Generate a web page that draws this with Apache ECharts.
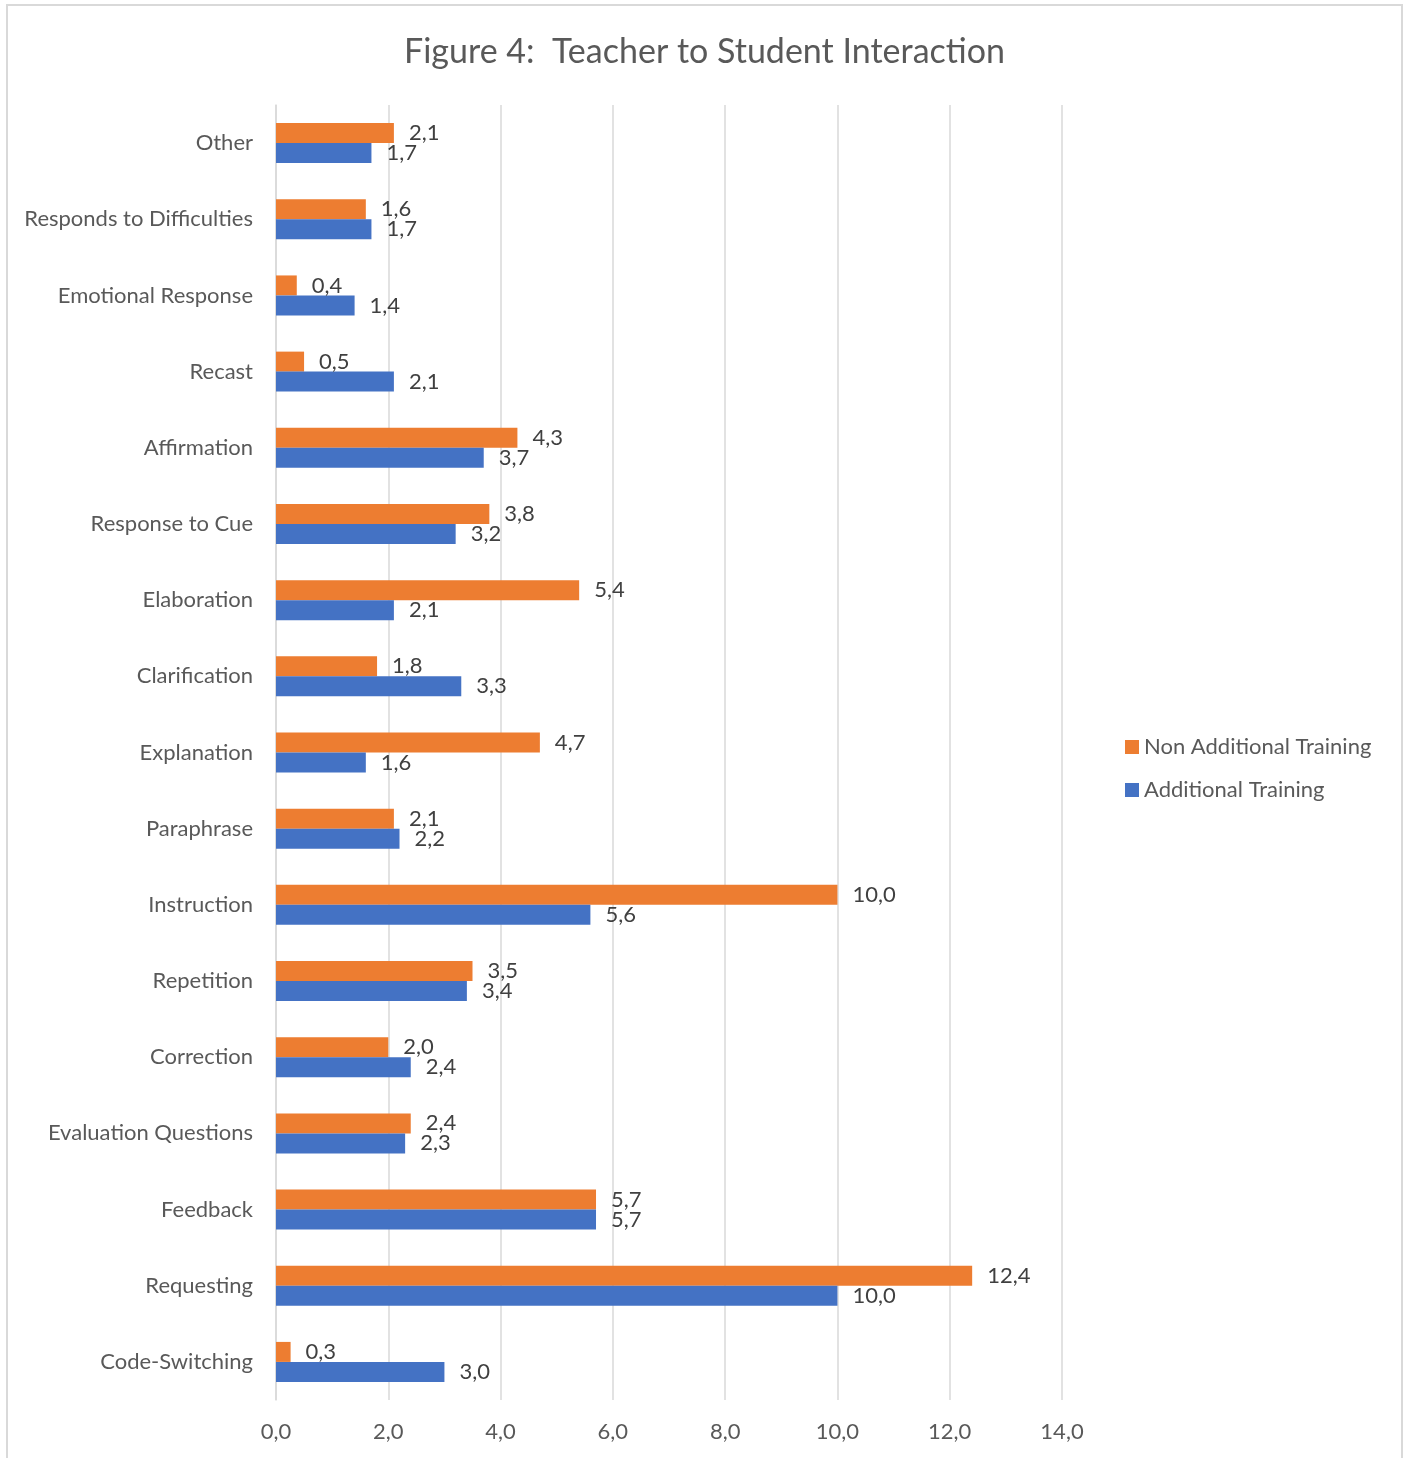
<!DOCTYPE html>
<html>
<head>
<meta charset="utf-8">
<script src="https://cdn.jsdelivr.net/npm/echarts@6/dist/echarts.min.js"></script>
<style>
html,body{margin:0;padding:0;background:#fff;}
#chart{width:1409px;height:1458px;}
</style>
</head>
<body>
<div id="chart"></div>
<script>
const categories = ["Other","Responds to Difficulties","Emotional Response","Recast","Affirmation","Response to Cue","Elaboration","Clarification","Explanation","Paraphrase","Instruction","Repetition","Correction","Evaluation Questions","Feedback","Requesting","Code-Switching"];
const nonAdditional = [2.1,1.6,0.37,0.5,4.3,3.8,5.4,1.8,4.7,2.1,10.0,3.5,2.0,2.4,5.7,12.4,0.26];
const additional = [1.7,1.7,1.4,2.1,3.7,3.2,2.1,3.3,1.6,2.2,5.6,3.4,2.4,2.3,5.7,10.0,3.0];
const xTicks = [0,2,4,6,8,10,12,14];

const FONT = 'Lato';
const fmt = v => Number(v).toFixed(1).replace('.', ',');

const chart = echarts.init(document.getElementById('chart'));
chart.setOption({
  animation: false,
  textStyle: {fontFamily: FONT},
  graphic: [{
    type: 'rect',
    shape: {x: 7, y: 5, width: 1395, height: 1500},
    style: {fill: 'none', stroke: '#d9d9d9', lineWidth: 2},
    silent: true
  }],
  title: {
    text: 'Figure 4:  Teacher to Student Interaction',
    left: 'center',
    top: 30,
    textStyle: {fontFamily: FONT, fontSize: 34, fontWeight: 'normal', color: '#595959'}
  },
  legend: {
    orient: 'vertical',
    left: 1120,
    top: 731,
    itemWidth: 14,
    itemHeight: 14,
    itemGap: 21,
    icon: 'rect',
    textStyle: {fontFamily: FONT, fontSize: 22, color: '#595959'},
    data: ['Non Additional Training', 'Additional Training']
  },
  grid: {left: 276, right: 347, top: 105, bottom: 58, containLabel: false},
  xAxis: {
    type: 'value',
    min: xTicks[0],
    max: xTicks[xTicks.length - 1],
    interval: 2,
    axisLine: {show: false},
    axisTick: {show: false},
    axisLabel: {formatter: fmt, fontFamily: FONT, fontSize: 22, color: '#595959', margin: 21},
    splitLine: {show: true, lineStyle: {color: '#d9d9d9', width: 1.5}}
  },
  yAxis: {
    type: 'category',
    inverse: true,
    data: categories,
    axisLine: {show: true, lineStyle: {color: '#d9d9d9', width: 1.5}},
    axisTick: {show: false},
    axisLabel: {fontFamily: FONT, fontSize: 22, color: '#595959', margin: 23}
  },
  series: [
    {
      name: 'Non Additional Training',
      type: 'bar',
      data: nonAdditional,
      barWidth: 20,
      barGap: '0%',
      itemStyle: {color: '#ED7D31'},
      label: {show: true, position: 'right', distance: 15, formatter: p => fmt(p.value), fontFamily: FONT, fontSize: 22, color: '#404040'}
    },
    {
      name: 'Additional Training',
      type: 'bar',
      data: additional,
      barWidth: 20,
      barGap: '0%',
      itemStyle: {color: '#4472C4'},
      label: {show: true, position: 'right', distance: 15, formatter: p => fmt(p.value), fontFamily: FONT, fontSize: 22, color: '#404040'}
    }
  ]
});
</script>
</body>
</html>
